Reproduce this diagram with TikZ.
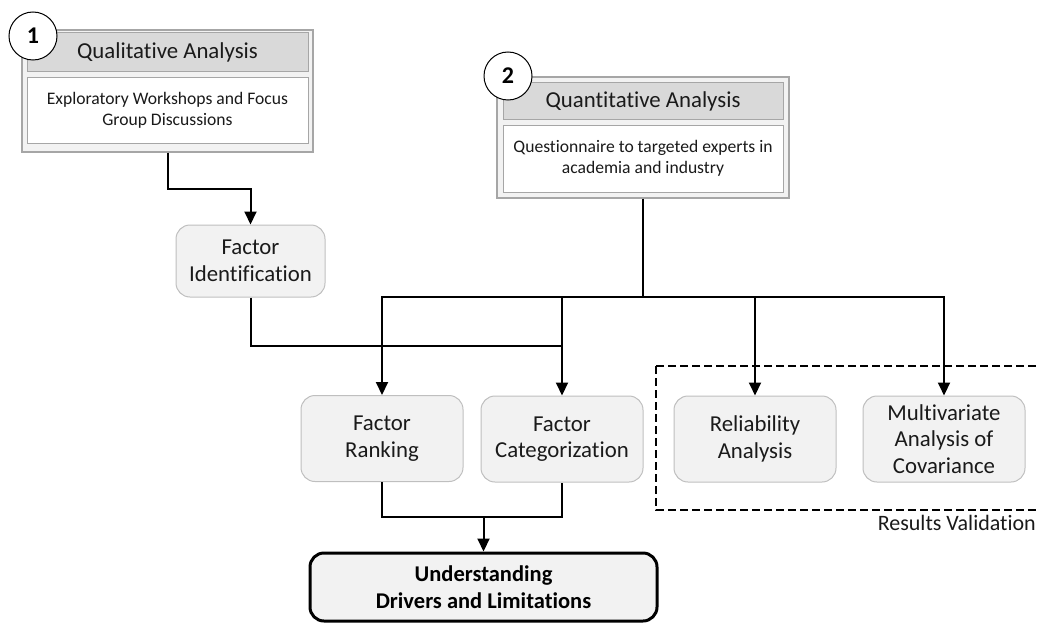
\documentclass[tikz,border=0pt]{standalone}
\usepackage{fontspec}
\setmainfont[Ligatures=NoCommon]{Carlito}
\usetikzlibrary{arrows.meta}
\definecolor{hdrfill}{HTML}{D9D9D9}
\definecolor{boxfill}{HTML}{F2F2F2}
\definecolor{boxline}{HTML}{A6A6A6}
\definecolor{procline}{HTML}{BFBFBF}
\definecolor{txt}{HTML}{1A1A1A}
\tikzset{
 outerbox/.style={draw=boxline, fill=boxfill, line width=1.2pt, inner sep=0pt},
 hdrbox/.style={draw=boxline, fill=hdrfill, line width=1pt, inner sep=0pt, text=txt, font=\fontsize{22.8}{27}\selectfont},
 subbox/.style={draw=boxline, fill=white, line width=1pt, inner sep=0pt, align=center, text=txt, font=\fontsize{17.6}{21}\selectfont},
 proc/.style={draw=procline, fill=boxfill, line width=1pt, rounded corners=14pt, inner sep=0pt, align=center, minimum width=162pt, minimum height=86pt, text=txt, font=\fontsize{22.8}{26.5}\selectfont},
 finalbox/.style={draw=black, fill=boxfill, line width=3pt, rounded corners=14pt, inner sep=0pt, align=center, minimum width=347pt, minimum height=68pt, font=\bfseries\fontsize{22.5}{27}\selectfont},
 num/.style={circle, draw=black, fill=white, line width=1pt, minimum size=48pt, inner sep=0pt, font=\bfseries\fontsize{24}{28}\selectfont},
 arr/.style={line width=2pt, -{Triangle[length=13pt,width=12pt]}},
 conn/.style={line width=2pt},
 thinconn/.style={line width=1.5pt},
 valbox/.style={line width=2pt, dash pattern=on 8pt off 4pt},
}
\begin{document}
\begin{tikzpicture}[x=1pt,y=-1pt]
\useasboundingbox (0,0) rectangle (1040,623);
% Box 1
\node[outerbox, minimum width=291pt, minimum height=122pt] (b1) at (167.5,91) {};
\node[hdrbox, minimum width=281pt, minimum height=39pt] (h1) at (167.5,52.5) {Qualitative Analysis};
\node[subbox, minimum width=281pt, minimum height=65pt] (s1) at (167.5,110.5) {Exploratory Workshops and Focus\\Group Discussions};
\node[num] (n1) at (33,36) {1};
% Box 2
\node[outerbox, minimum width=292pt, minimum height=121pt] (b2) at (643,137.5) {};
\node[hdrbox, minimum width=280pt, minimum height=36pt] (h2) at (643,101) {Quantitative Analysis};
\node[subbox, minimum width=280pt, minimum height=67pt] (s2) at (643,158.5) {Questionnaire to targeted experts in\\academia and industry};
\node[num] (n2) at (508,76) {2};
% process nodes
\node[proc, minimum width=149pt, minimum height=72pt] (fi) at (250.5,261) {Factor\\Identification};
\node[proc] (rank) at (382,438.5) {Factor\\Ranking};
\node[proc] (cat) at (562,439) {Factor\\Categorization};
\node[proc] (rel) at (755,439) {Reliability\\Analysis};
\node[proc] (mv) at (944,439) {Multivariate\\Analysis of\\Covariance};
\node[finalbox] (fin) at (483.5,587) {Understanding\\Drivers and Limitations};
% validation region
\draw[valbox] (656,366) rectangle (1050,510);
\node[anchor=east, inner sep=0pt, text=txt, font=\fontsize{22}{26}\selectfont] (rv) at (1036,523) {Results Validation};
% connectors
\coordinate (bus) at (643,297);
\coordinate (j1) at (562,346);
\coordinate (j2) at (483.5,517);
\draw[arr] (b1.south) -- ++(0,36) -| (fi.north);
\draw[conn, line width=2.5pt] (b2.south) -- (bus);
\draw[arr] (bus) -| (rank.north);
\draw[arr] (bus) -| (cat.north);
\draw[arr] (bus) -| (rel.north);
\draw[arr] (bus) -| (mv.north);
\draw[conn] (fi.south) |- (j1);
\draw[thinconn] (rank.south) |- (j2) -| (cat.south);
\draw[arr] (j2) -- (fin.north);
\end{tikzpicture}
\end{document}
